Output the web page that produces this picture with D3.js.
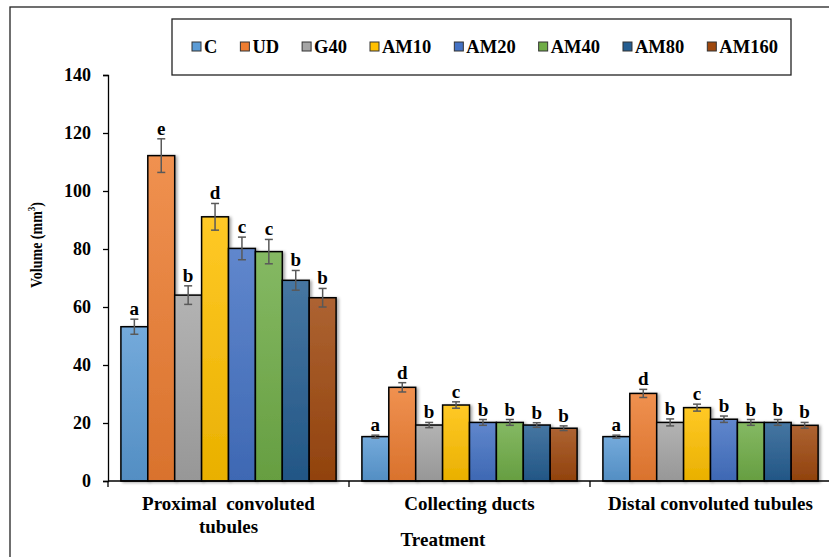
<!DOCTYPE html>
<html>
<head>
<meta charset="utf-8">
<script src="https://cdn.jsdelivr.net/npm/d3@7/dist/d3.min.js"></script>
<style>
  body { margin: 0; background: #fff; }
  text { font-family: "Liberation Serif", "Times New Roman", serif; font-weight: bold; fill: #000; }
</style>
</head>
<body>
<div id="chart_box"></div>
<script>
// data
var groups = ["Proximal  convoluted tubules", "Collecting ducts", "Distal convoluted tubules"];
var series = ["C", "UD", "G40", "AM10", "AM20", "AM40", "AM80", "AM160"];
var colorList = ["#5b9bd5", "#ed7d31", "#a5a5a5", "#ffc000", "#4472c4", "#70ad47", "#255e91", "#9e480e"];

var pctValues = [53.2, 112.2, 64.1, 91.1, 80.2, 79.1, 69.2, 63.2];
var cdValues  = [15.3, 32.3, 19.3, 26.2, 20.2, 20.2, 19.3, 18.2];
var dctValues = [15.3, 30.2, 20.2, 25.3, 21.3, 20.2, 20.2, 19.2];

var pctErrors = [2.6, 5.8, 3.2, 4.6, 3.9, 4.2, 3.4, 3.2];
var cdErrors  = [0.5, 1.6, 0.9, 1.1, 1.0, 1.0, 0.8, 0.8];
var dctErrors = [0.5, 1.4, 1.2, 1.2, 1.1, 1.0, 1.0, 1.0];

var pctLetters = ["a", "e", "b", "d", "c", "c", "b", "b"];
var cdLetters  = ["a", "d", "b", "c", "b", "b", "b", "b"];
var dctLetters = ["a", "d", "b", "c", "b", "b", "b", "b"];

var yTicks = [0, 20, 40, 60, 80, 100, 120, 140];

var rows = [
  {group: groups[0], values: pctValues, errors: pctErrors, letters: pctLetters},
  {group: groups[1], values: cdValues,  errors: cdErrors,  letters: cdLetters},
  {group: groups[2], values: dctValues, errors: dctErrors, letters: dctLetters}
];

var W = 829, H = 557;
var svg = d3.select("#chart_box").append("svg").attr("width", W).attr("height", H);

var colors = d3.scaleOrdinal().domain(series).range(colorList);

var x0 = d3.scaleBand().domain(groups).range([108, 831]).padding(0);
var x1 = d3.scaleBand().domain(series).range([0, x0.bandwidth()]).paddingInner(0).paddingOuter(0.48);
var y = d3.scaleLinear().domain([0, 140]).range([481, 75]);

// gradients, lighter at top
var defs = svg.append("defs");
series.forEach(function(s, i) {
  var c = d3.color(colors(s));
  var g = defs.append("linearGradient").attr("id", "grad" + i)
    .attr("x1", 0).attr("y1", 0).attr("x2", 0).attr("y2", 1);
  g.append("stop").attr("offset", "0%").attr("stop-color", d3.interpolateRgb(c, "#fff")(0.15));
  g.append("stop").attr("offset", "100%").attr("stop-color", c.darker(0.25));
});
var shadow = defs.append("filter").attr("id", "shade").attr("x", "-20%").attr("y", "-5%").attr("width", "150%").attr("height", "120%");
shadow.append("feDropShadow").attr("dx", 2).attr("dy", 1).attr("stdDeviation", 1.5).attr("flood-color", "#000").attr("flood-opacity", 0.35);

// outer frame
svg.append("rect").attr("x", 10).attr("y", 7).attr("width", 840).attr("height", 580)
  .attr("fill", "none").attr("stroke", "#222").attr("stroke-width", 1.3);

// y axis
var yAxis = svg.append("g").attr("transform", "translate(108,0)")
  .call(d3.axisLeft(y).tickValues(yTicks).tickSize(5).tickPadding(12));
yAxis.select(".domain").attr("stroke", "#000").attr("stroke-width", 1.3);
yAxis.selectAll(".tick line").attr("stroke", "#000").attr("stroke-width", 1.3);
yAxis.selectAll(".tick text").style("font-family", "Liberation Serif").style("font-weight", "bold")
  .style("font-size", "18px").attr("fill", "#000");

// bars
var gBars = svg.append("g").selectAll("g.grp").data(rows).enter().append("g")
  .attr("class", "grp")
  .attr("transform", function(d) { return "translate(" + x0(d.group) + ",0)"; });

var cells = gBars.selectAll("g.cell").data(function(d) {
  return series.map(function(s, i) {
    return {s: s, i: i, v: d.values[i], e: d.errors[i], l: d.letters[i]};
  });
}).enter().append("g").attr("class", "cell");

cells.append("rect")
  .attr("x", function(d) { return x1(d.s); })
  .attr("y", function(d) { return y(d.v); })
  .attr("width", x1.bandwidth())
  .attr("height", function(d) { return y(0) - y(d.v); })
  .attr("fill", function(d) { return "url(#grad" + d.i + ")"; })
  .attr("stroke", "#000").attr("stroke-width", 1.5)
  .attr("filter", "url(#shade)");

// error bars
var errColor = "#595959";
cells.append("line")
  .attr("x1", function(d) { return x1(d.s) + x1.bandwidth() / 2; })
  .attr("x2", function(d) { return x1(d.s) + x1.bandwidth() / 2; })
  .attr("y1", function(d) { return y(d.v + d.e); })
  .attr("y2", function(d) { return y(d.v - d.e); })
  .attr("stroke", errColor).attr("stroke-width", 1.5);
[1, -1].forEach(function(sign) {
  cells.append("line")
    .attr("x1", function(d) { return x1(d.s) + x1.bandwidth() / 2 - 4; })
    .attr("x2", function(d) { return x1(d.s) + x1.bandwidth() / 2 + 4; })
    .attr("y1", function(d) { return y(d.v + sign * d.e); })
    .attr("y2", function(d) { return y(d.v + sign * d.e); })
    .attr("stroke", errColor).attr("stroke-width", 1.5);
});

// significance letters
cells.append("text")
  .attr("x", function(d) { return x1(d.s) + x1.bandwidth() / 2; })
  .attr("y", function(d) { return y(d.v + d.e) - 4; })
  .attr("text-anchor", "middle")
  .style("font-size", "19px")
  .text(function(d) { return d.l; });

// x axis
svg.append("line").attr("x1", 108).attr("x2", 831).attr("y1", y(0)).attr("y2", y(0))
  .attr("stroke", "#000").attr("stroke-width", 1.3);
svg.selectAll("line.xtick").data(groups.concat(["end"])).enter().append("line")
  .attr("class", "xtick")
  .attr("x1", function(d, i) { return i < groups.length ? x0(d) : 831; })
  .attr("x2", function(d, i) { return i < groups.length ? x0(d) : 831; })
  .attr("y1", y(0)).attr("y2", y(0) + 6)
  .attr("stroke", "#000").attr("stroke-width", 1.3);

// category labels
var catLines = [["Proximal\u00a0 convoluted", "tubules"], ["Collecting ducts"], ["Distal convoluted tubules"]];
groups.forEach(function(gname, i) {
  var t = svg.append("text")
    .attr("x", x0(gname) + x0.bandwidth() / 2)
    .attr("y", 510)
    .attr("text-anchor", "middle")
    .style("font-size", "19px");
  catLines[i].forEach(function(line, j) {
    t.append("tspan").attr("x", x0(gname) + x0.bandwidth() / 2).attr("dy", j === 0 ? 0 : 23).text(line);
  });
});

svg.append("text").attr("x", 443).attr("y", 546).attr("text-anchor", "middle")
  .style("font-size", "19px").text("Treatment");

// y axis title
var yTitle = svg.append("text")
  .attr("transform", "translate(42,245) rotate(-90) scale(1,1.25)")
  .attr("text-anchor", "middle")
  .style("font-size", "14px");
yTitle.append("tspan").text("Volume (mm");
yTitle.append("tspan").attr("dy", -6).style("font-size", "9px").text("3");
yTitle.append("tspan").attr("dy", 6).text(")");

// legend
svg.append("rect").attr("x", 172).attr("y", 19).attr("width", 619).attr("height", 56)
  .attr("fill", "#fff").attr("stroke", "#222").attr("stroke-width", 1.3);
var lx = 192;
series.forEach(function(s, i) {
  svg.append("rect").attr("x", lx).attr("y", 42).attr("width", 9).attr("height", 9)
    .attr("fill", colors(s)).attr("stroke", "#333").attr("stroke-width", 1);
  var t = svg.append("text").attr("x", lx + 12).attr("y", 53).style("font-size", "18.5px").text(s);
  lx += 12 + t.node().getComputedTextLength() + 23;
});
</script>
</body>
</html>
